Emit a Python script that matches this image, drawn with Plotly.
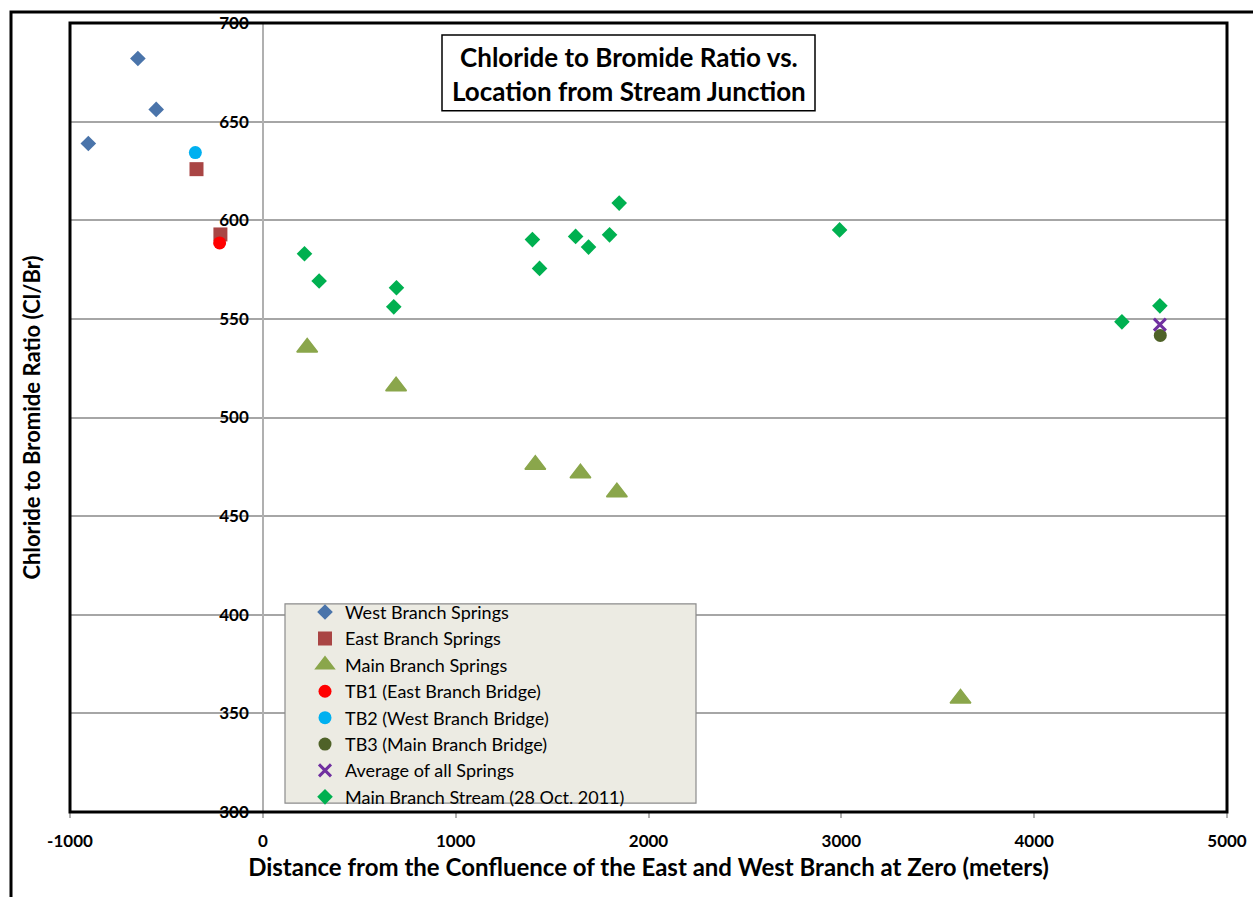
import plotly.graph_objects as go

# ---------------- data ----------------
west_x = [-905, -648, -553]
west_y = [638.9, 682.0, 656.2]

east_x = [-344, -220]
east_y = [625.9, 592.8]

main_spr_x = [230, 691, 1413, 1647, 1836, 3618]
main_spr_y = [535.5, 515.8, 476.1, 471.7, 462.1, 357.6]

tb1_x = [-224]
tb1_y = [588.5]

tb2_x = [-350]
tb2_y = [634.3]

tb3_x = [4654]
tb3_y = [541.6]

avg_x = [4652]
avg_y = [547.1]

stream_x = [216, 292, 693, 679, 1398, 1435, 1622, 1689, 1798, 1848, 2991, 4455, 4652]
stream_y = [583.0, 569.2, 565.8, 556.1, 590.2, 575.6, 591.8, 586.4, 592.6, 608.7, 595.1, 548.5, 556.6]

x_ticks = [-1000, 0, 1000, 2000, 3000, 4000, 5000]
y_ticks = [300, 350, 400, 450, 500, 550, 600, 650, 700]

FONT = "Lato"

# ---------------- figure ----------------
fig = go.Figure()

def add(name, xs, ys, symbol, color, size, group, line=None):
    marker = dict(symbol=symbol, color=color, size=size)
    marker["line"] = line if line else dict(width=0)
    fig.add_trace(go.Scatter(x=xs, y=ys, mode="markers", name=name,
                             marker=marker, legendgroup=group))

add("West Branch Springs", west_x, west_y, "diamond", "#4a74aa", 12, "g1")
add("East Branch Springs", east_x, east_y, "square", "#a94544", 14, "g2")
add("Main Branch Springs", main_spr_x, main_spr_y, "triangle-up", "#8aa64b", 18, "g3",
    line=dict(width=1.5, color="#8aa64b"))
add("TB1 (East Branch Bridge)", tb1_x, tb1_y, "circle", "#ff0000", 13, "g4")
add("TB2 (West Branch Bridge)", tb2_x, tb2_y, "circle", "#00b0f0", 13, "g5")
add("TB3 (Main Branch Bridge)", tb3_x, tb3_y, "circle", "#4f6228", 13, "g6")
add("Average of all Springs", avg_x, avg_y, "x-thin", "#7030a0", 12, "g7",
    line=dict(width=3, color="#7030a0"))
add("Main Branch Stream (28 Oct. 2011)", stream_x, stream_y, "diamond", "#00b050", 12, "g8")

# invisible trace to host the tick-label axis crossing at x = 0
fig.add_trace(go.Scatter(x=[None], y=[None], yaxis="y2", showlegend=False,
                         hoverinfo="skip", mode="markers"))

# paper-coordinate helpers (plot area: 70..1227 px wide, 20..812 px high)
L, R, T, B = 70, 1227, 20, 812
W, H = R - L, B - T
def px(x):
    return (x - L) / W
def py(y):
    return 1 - (y - T) / H

fig.update_layout(
    width=1253, height=897,
    margin=dict(l=L, r=1253 - R, t=T, b=897 - B),
    paper_bgcolor="white", plot_bgcolor="white",
    font=dict(family=FONT, color="black"),
    showlegend=True,
    legend=dict(
        x=px(305), y=py(593), xanchor="left", yanchor="top",
        bgcolor="rgba(0,0,0,0)", borderwidth=0,
        font=dict(family=FONT, size=18, color="black"),
        tracegroupgap=0, itemsizing="trace",
    ),
    xaxis=dict(
        range=[-1000, 5000], tickvals=x_ticks, ticktext=[str(v) for v in x_ticks],
        showgrid=False, zeroline=True, zerolinecolor="#b0b0b0", zerolinewidth=1.5,
        ticks="outside", ticklen=5, tickcolor="#b0b0b0", tickwidth=1.5,
        tickfont=dict(family=FONT, size=17, color="black", weight="bold"),
        ticklabelstandoff=9,
        showline=False,
        title=dict(text="Distance from the Confluence of the East and West Branch at Zero (meters)",
                   font=dict(family=FONT, size=24, color="black", weight="bold"),
                   standoff=8),
        automargin=False,
    ),
    yaxis=dict(
        range=[300, 700], tickvals=y_ticks,
        showgrid=True, gridcolor="#a6a6a6", gridwidth=1.5,
        zeroline=False, showticklabels=False, ticks="",
        showline=False,
        title=dict(text="Chloride to Bromide Ratio (Cl/Br)",
                   font=dict(family=FONT, size=22, color="black", weight="bold"),
                   standoff=22),
        automargin=False,
    ),
    yaxis2=dict(
        overlaying="y", matches="y", anchor="free", position=1 / 6, side="left",
        range=[300, 700], tickvals=y_ticks, ticktext=[str(v) for v in y_ticks],
        showgrid=False, zeroline=False, showline=False, ticks="",
        tickfont=dict(family=FONT, size=17, color="black", weight="bold"),
        ticklabelstandoff=14,
    ),
    shapes=[
        # legend background box
        dict(type="rect", xref="paper", yref="paper",
             x0=px(285), x1=px(696), y0=py(803), y1=py(603),
             fillcolor="#ecebe3", line=dict(color="#8c8c8c", width=1.2), layer="above"),
        # title box
        dict(type="rect", xref="paper", yref="paper",
             x0=px(442), x1=px(815), y0=py(108), y1=py(32),
             fillcolor="white", line=dict(color="black", width=1.5), layer="above"),
        # plot area border
        dict(type="rect", xref="paper", yref="paper", x0=0, x1=1, y0=0, y1=1,
             line=dict(color="black", width=3), layer="above"),
        # outer chart border
        dict(type="rect", xref="paper", yref="paper",
             x0=px(11), x1=px(1270), y0=py(920), y1=py(9),
             line=dict(color="black", width=3), layer="above"),
    ],
    annotations=[
        dict(text="Chloride to Bromide Ratio vs.<br>Location from Stream Junction",
             xref="paper", yref="paper", x=px(628.5), y=py(71),
             xanchor="center", yanchor="middle", showarrow=False,
             font=dict(family=FONT, size=26, color="black", weight="bold")),
    ],
)

fig.write_html("out.html", config={"displayModeBar": False},
               post_script="document.body.style.margin='0px';")
